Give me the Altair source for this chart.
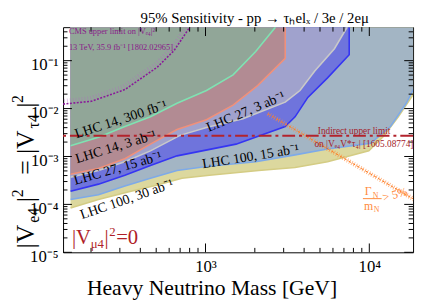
import altair as alt
import pandas as pd

SERIF = "Liberation Serif"

# ---------------- data ----------------
# lower edges of the sensitivity regions (mass in GeV, |V_e4|^2 = |V_tau4|^2)
mass_100_30 = [150, 222, 336, 508, 718, 1057, 2109, 3521, 5560, 9931, 12220, 15030, 19800]
v_100_30 = [8.4e-5, 1.26e-4, 1.82e-4, 2.53e-4, 3.52e-4, 4.05e-4, 5.12e-4, 5.89e-4, 7.8e-4, 1.31e-3, 2.64e-3, 6.73e-3, 2.74e-2]

mass_100_15 = [150, 222, 322, 461, 670, 1014, 2025, 3521, 5560, 10210, 13460, 16800, 19800]
v_100_15 = [1.27e-4, 1.59e-4, 2.41e-4, 3.52e-4, 5.12e-4, 6.17e-4, 7.8e-4, 1.08e-3, 1.43e-3, 1.9e-3, 4.21e-3, 1.29e-2, 3.8e-2]

mass_27_15 = [150, 222, 322, 461, 670, 1535, 3066, 3521, 4214, 5560, 7537]
v_27_15 = [1.89e-4, 2.65e-4, 4.05e-4, 6.47e-4, 1.03e-3, 1.81e-3, 4.21e-3, 6.73e-3, 1.71e-2, 4.38e-2, 0.133]

mass_27_3 = [150, 222, 322, 461, 699, 1014, 1692, 3066, 3774, 4645, 6124, 7332]
v_27_3 = [3.68e-4, 5.12e-4, 7.8e-4, 1.31e-3, 2.76e-3, 4.02e-3, 6.12e-3, 1.36e-2, 2.38e-2, 6.08e-2, 0.178, 0.5]

mass_14_3 = [150, 222, 322, 461, 670, 1014, 1473, 2080, 3066]
v_14_3 = [4.24e-4, 5.62e-4, 8.97e-4, 1.81e-3, 3.66e-3, 5.85e-3, 1.18e-2, 3.01e-2, 0.112]

mass_14_300 = [150, 222, 322, 461, 670, 1014, 1473, 2025, 2673]
v_14_300 = [1.67e-3, 2.51e-3, 4.21e-3, 6.73e-3, 1.29e-2, 2.38e-2, 5.04e-2, 0.155, 0.5]

# CMS 13 TeV upper limit
mass_cms = [135, 201, 322, 508, 643, 802]
v_cms = [0.0124, 0.0142, 0.0249, 0.0733, 0.163, 0.5]

# indirect upper limit
v_indirect = [0.0027]

# Gamma_N / m_N > 5% line
mass_width = [2400, 20000]
v_width = [7.8e-3, 1.12e-4]

x_major = [1000, 10000]
x_minor = [200, 300, 400, 500, 600, 700, 800, 900, 2000, 3000, 4000, 5000, 6000, 7000, 8000, 9000]
y_major = [1e-5, 1e-4, 1e-3, 1e-2, 1e-1]
y_minor = [k * 10.0 ** e for e in range(-5, 0) for k in range(2, 10) if k * 10.0 ** e < 0.5]

TITLE = "95% Sensitivity - pp → τₕelₓ / 3e / 2eμ"

X_DOMAIN = [135, 18500]
Y_DOMAIN = [1e-5, 0.5]
W, H = 356, 229

xs = alt.Scale(type="log", domain=X_DOMAIN, nice=False)
ys = alt.Scale(type="log", domain=Y_DOMAIN, nice=False)

xaxis = alt.Axis(values=x_major, ticks=False, domain=False, grid=False,
                 labelFont=SERIF, labelFontSize=17, labelPadding=7, labelColor="black",
                 labelExpr="datum.value < 5000 ? '10³' : '10⁴'",
                 title="Heavy Neutrino Mass [GeV]", titleFont=SERIF, titleFontSize=22,
                 titleFontWeight="normal", titleColor="black", titleX=151, titleY=26,
                 titleAlign="center", titleBaseline="top")
yaxis = alt.Axis(values=y_major, ticks=False, domain=False, grid=False,
                 labelFont=SERIF, labelFontSize=17, labelPadding=5, labelColor="black",
                 labelOffset=4, title=None,
                 labelExpr="datum.value < 2e-5 ? '10⁻⁵' : datum.value < 2e-4 ? '10⁻⁴' : datum.value < 2e-3 ? '10⁻³' : datum.value < 2e-2 ? '10⁻²' : '10⁻¹'")


def X(field="mass"):
    return alt.X(f"{field}:Q", scale=xs, axis=xaxis)


def Y(field="v"):
    return alt.Y(f"{field}:Q", scale=ys, axis=yaxis)


layers = []

bands = [
    (mass_100_30, v_100_30, "#dcd89e", "#d4cc84"),
    (mass_100_15, v_100_15, "#a3b5c4", "#7eaae8"),
    (mass_27_15, v_27_15, "#6f74dc", "#3535f2"),
    (mass_27_3, v_27_3, "#a0a2cd", "#c9c9c9"),
    (mass_14_3, v_14_3, "#b28b93", "#f0907a"),
    (mass_14_300, v_14_300, "#91a698", "#7fe2b2"),
]
for m, v, fill, edge in bands:
    df = pd.DataFrame({"mass": m, "v": v, "top": [Y_DOMAIN[1]] * len(m)})
    layers.append(alt.Chart(df).mark_area(color=fill, opacity=1, clip=True)
                  .encode(x=X(), y=Y(), y2=alt.Y2("top:Q")))
    lm, lv = list(m), list(v)
    if lv[-1] < Y_DOMAIN[1]:
        lm.append(lm[-1])
        lv.append(Y_DOMAIN[1])
    ldf = pd.DataFrame({"mass": lm, "v": lv, "i": list(range(len(lm)))})
    layers.append(alt.Chart(ldf).mark_line(color=edge, strokeWidth=1.6, clip=True)
                  .encode(x=X(), y=Y(), order="i:Q"))

# width line
wd = pd.DataFrame({"mass": mass_width, "v": v_width})
layers.append(alt.Chart(wd).mark_line(color="#ff8a3c", strokeWidth=4.5, strokeDash=[0.8, 1.8],
                                      opacity=0.7, clip=True)
              .encode(x=X(), y=Y()))
layers.append(alt.Chart(wd).mark_line(color="#ff7a20", strokeWidth=1, strokeDash=[3, 2], clip=True)
              .encode(x=X(), y=Y()))

# CMS limit (hatched dotted)
cms = pd.DataFrame({"mass": mass_cms, "v": v_cms, "i": list(range(len(mass_cms)))})
layers.append(alt.Chart(cms).mark_line(color="#b070c0", strokeWidth=4, strokeDash=[0.7, 2.3],
                                       opacity=0.55, xOffset=-2, yOffset=-3, clip=True)
              .encode(x=X(), y=Y(), order="i:Q"))
layers.append(alt.Chart(cms).mark_line(color="#8a1a9a", strokeWidth=1.6, strokeDash=[2, 1.5], clip=True)
              .encode(x=X(), y=Y(), order="i:Q"))

# indirect limit
ind = pd.DataFrame({"v": v_indirect})
layers.append(alt.Chart(ind).mark_rule(color="#b3232c", strokeWidth=2, strokeDash=[13, 4, 3, 4])
              .encode(y=Y()))

# ticks on all four sides
def rules(vals, axis_dir, length):
    df = pd.DataFrame({"mass": vals, "v": vals})
    out = []
    if axis_dir == "x":
        out.append(alt.Chart(df).mark_rule(color="black", strokeWidth=1)
                   .encode(x=X(), y=alt.value(H), y2=alt.value(H - length)))
        out.append(alt.Chart(df).mark_rule(color="black", strokeWidth=1)
                   .encode(x=X(), y=alt.value(0), y2=alt.value(length)))
    else:
        out.append(alt.Chart(df).mark_rule(color="black", strokeWidth=1)
                   .encode(y=Y(), x=alt.value(0), x2=alt.value(length)))
        out.append(alt.Chart(df).mark_rule(color="black", strokeWidth=1)
                   .encode(y=Y(), x=alt.value(W), x2=alt.value(W - length)))
    return out

layers += rules(x_major, "x", 9)
layers += rules(x_minor, "x", 4.5)
layers += rules(y_major, "y", 9)
layers += rules(y_minor, "y", 4.5)

# band labels
band_labels = ["LHC 14, 300 fb⁻¹", "LHC 14, 3 ab⁻¹", "LHC 27, 15 ab⁻¹", "LHC 100, 30 ab⁻¹",
               "LHC 27, 3 ab⁻¹", "LHC 100, 15 ab⁻¹"]
label_mass = [305, 284, 292, 331, 1763, 1889]
label_v = [5.85e-3, 1.57e-3, 5.61e-4, 1.26e-4, 8.5e-3, 9.86e-4]
label_angle = [342, 343, 344, 341, 337, 351]
for t, m, v, a in zip(band_labels, label_mass, label_v, label_angle):
    df = pd.DataFrame({"mass": [m], "v": [v]})
    layers.append(alt.Chart(df).mark_text(text=t, font=SERIF, fontSize=14, color="black",
                                          angle=a, align="center", baseline="middle")
                  .encode(x=X(), y=Y()))

# CMS text
cms_txt = pd.DataFrame({"mass": [146.6, 146.6], "v": [0.415, 0.196],
                        "t": ["CMS upper limit on |Vₑ₄|²", "13 TeV, 35.9 fb⁻¹ [1802.02965]"]})
layers.append(alt.Chart(cms_txt).mark_text(font=SERIF, fontSize=8.5, color="#8a1a8a",
                                           align="left", baseline="middle")
              .encode(x=X(), y=Y(), text="t:N"))

# indirect text
ind_txt = pd.DataFrame({"mass": [8070, 9270], "v": [3.38e-3, 1.81e-3],
                        "t": ["Indirect upper limit", "on |Vₑ₄V*τ₄| [1605.08774]"]})
layers.append(alt.Chart(ind_txt).mark_text(font=SERIF, fontSize=9.5, color="#a3202a",
                                           align="center", baseline="middle")
              .encode(x=X(), y=Y(), text="t:N"))

# Vmu4 = 0 text, composed
anchor = pd.DataFrame({"mass": [153], "v": [1.46e-5]})
vmu_pieces = [("|V", 21, 0, 0), ("μ4", 13, 19, 4), ("|", 21, 33, 0), ("2", 13, 38, -9), ("=0", 21, 45, 0)]
for t, fs, dx, dy in vmu_pieces:
    layers.append(alt.Chart(anchor).mark_text(text=t, font=SERIF, fontSize=fs, color="#b01e28",
                                              align="left", baseline="alphabetic", dx=dx, dy=dy)
                  .encode(x=X(), y=Y()))

# Gamma/m > 5% text
g_anchor = pd.DataFrame({"mass": [10350], "v": [1.32e-4]})
g_pieces = [("Γ", 12, -7, -4, 0), ("N", 8, 1, -1, 0), ("m", 12, -8, 12, 0), ("N", 8, 2, 14, 0),
            ("> 5%", 12, 11, 6, 345)]
for t, fs, dx, dy, a in g_pieces:
    layers.append(alt.Chart(g_anchor).mark_text(text=t, font=SERIF, fontSize=fs, color="#ff8a3c",
                                                align="left", baseline="alphabetic", dx=dx, dy=dy,
                                                angle=a)
                  .encode(x=X(), y=Y()))
bar = pd.DataFrame({"mass": [9140], "mass2": [11890], "v": [1.32e-4]})
layers.append(alt.Chart(bar).mark_rule(color="#ff8a3c", strokeWidth=1)
              .encode(x=X(), x2="mass2:Q", y=Y()))

# y title composed of pieces (rotated)
one = pd.DataFrame({"k": [0]})
ytitle = [("|V", 26, -30, 225), ("e4", 16, -24, 199), ("|", 26, -30, 178), ("2", 16, -41, 173),
          ("=", 26, -30, 150), ("|V", 26, -30, 129), ("τ4", 16, -24, 103), ("|", 26, -30, 82),
          ("2", 16, -41, 77)]
for t, fs, px, py in ytitle:
    layers.append(alt.Chart(one).mark_text(text=t, font=SERIF, fontSize=fs, color="black",
                                           angle=270, align="left", baseline="alphabetic")
                  .encode(x=alt.value(px), y=alt.value(py)))

# chart title as a text mark placed above the frame
layers.append(alt.Chart(one).mark_text(text=TITLE, font=SERIF, fontSize=15, color="black",
                                       align="center", baseline="top")
              .encode(x=alt.value(195), y=alt.value(-16)))

chart = alt.layer(*layers).properties(
    width=W, height=H,
    autosize=alt.AutoSizeParams(type="none"),
    padding={"left": 56, "top": 17, "right": 4, "bottom": 46},
).configure_view(stroke="black", strokeWidth=1)

chart.save("out.html", embed_options={"renderer": "svg", "actions": False})
